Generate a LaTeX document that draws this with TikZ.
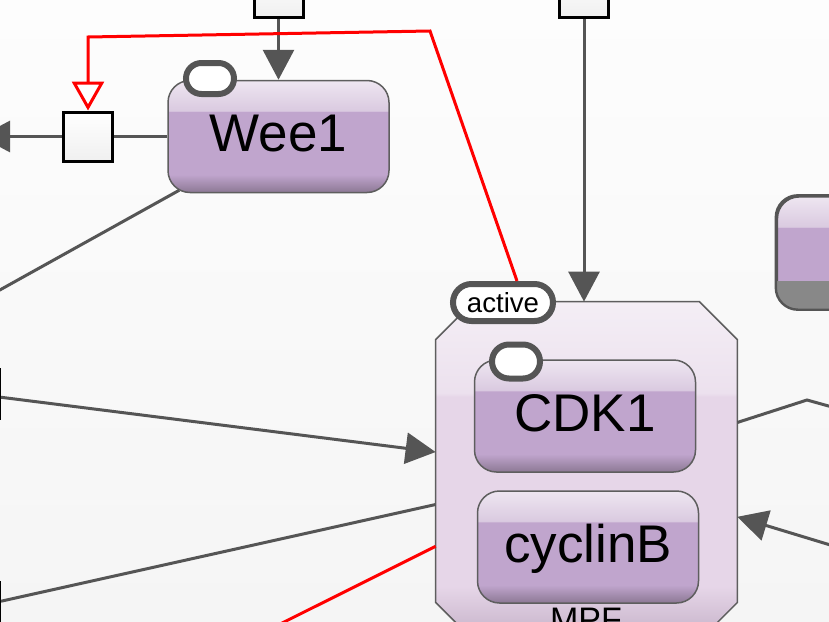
\documentclass[tikz,border=0pt]{standalone}
\usepackage{fontspec}
\setmainfont{Liberation Sans}
\usetikzlibrary{arrows.meta, shapes.misc, calc}
\definecolor{edgegray}{HTML}{555555}
\definecolor{bordergray}{HTML}{5E5E5E}
\definecolor{mtop}{HTML}{EEE6F1}
\definecolor{mmid}{HTML}{DACAE0}
\definecolor{mmain}{HTML}{C0A5CD}
\definecolor{mbot}{HTML}{8C7894}
\definecolor{ctop}{HTML}{F4EEF5}
\definecolor{cmid}{HTML}{ECE1EE}
\definecolor{cmain}{HTML}{E6D6E8}
\definecolor{cbot}{HTML}{C4B0C7}
\definecolor{bgtop}{HTML}{FDFDFD}
\definecolor{bgbot}{HTML}{F5F5F5}
\definecolor{clonegray}{HTML}{888888}
\definecolor{inhibred}{HTML}{FF0000}
\pgfdeclareverticalshading{macroshade}{100bp}{color(0bp)=(mbot); color(25bp)=(mbot); color(33bp)=(mmain); color(61bp)=(mmain); color(61.5bp)=(mmid); color(75bp)=(mtop); color(100bp)=(mtop)}
\pgfdeclareverticalshading{complexshade}{100bp}{color(0bp)=(cbot); color(25bp)=(cbot); color(33bp)=(cmain); color(61bp)=(cmain); color(61.5bp)=(cmid); color(75bp)=(ctop); color(100bp)=(ctop)}
\tikzset{
  macro node/.style={
    draw=bordergray,
    line width=0.75pt,
    shading=macroshade,
    rounded corners=11pt,
    minimum width=110.5pt,
    minimum height=56pt,
    inner sep=0pt,
    text height=19pt,
    text depth=4pt,
    font=\fontsize{26.5}{30}\selectfont
  },
  complex node/.style={
    minimum width=150.5pt,
    minimum height=169pt,
    inner sep=0pt
  },
  complex body/.style={
    draw=bordergray,
    line width=0.75pt,
    shading=complexshade
  },
  process node/.style={
    draw=black,
    line width=1.5pt,
    top color=white,
    bottom color=gray!12,
    minimum size=24.5pt,
    inner sep=0pt
  },
  state var/.style={
    rounded rectangle,
    draw=edgegray,
    line width=3pt,
    fill=white,
    inner sep=0pt,
    minimum width=24pt,
    minimum height=15.5pt
  },
  flow line/.style={
    draw=edgegray,
    line width=1.5pt
  },
  flow arrow/.style={
    flow line,
    -{Triangle[length=15pt, width=15.5pt]},
    fill=edgegray
  },
  stim arrow/.style={
    draw=inhibred,
    line width=1.5pt,
    -{Triangle[open, length=14.5pt, width=16pt, fill=white]}
  },
  red line/.style={
    draw=inhibred,
    line width=1.5pt
  }
}
\begin{document}
\begin{tikzpicture}[x=0.5pt, y=-0.5pt]

    % canvas (pixel units, y downwards)
    \clip (0,0) rectangle (829,621);
    \fill[top color=bgtop, bottom color=bgbot] (0,0) rectangle (829,621);

    % process squares
    \node[process node] (pTopL) at (278.5,-7) {};
    \node[process node] (pTopR) at (584,-7) {};
    \node[process node] (pWee) at (88,136.5) {};
    \node[process node] (pLeftA) at (-25,394) {};
    \node[process node] (pLeftB) at (-25,607) {};

    % Wee1 with its state variable
    \node[macro node] (wee) at (278.5,136.5) {Wee1};
    \node[state var] (weeSv) at (210,78.5) {};

    % clone box at the right edge
    \node[macro node, line width=1.2pt, draw=edgegray] (rbox) at (887.5,252.5) {};
    \begin{scope}
      \clip[rounded corners=11pt] (rbox.south west) rectangle (rbox.north east);
      \fill[clonegray] (rbox.south west) rectangle ($(rbox.south east)+(0,-29)$);
    \end{scope}
    \draw[draw=edgegray, line width=1.2pt, rounded corners=11pt] (rbox.south west) rectangle (rbox.north east);

    % MPF complex (cut corners of 38px)
    \node[complex node] (mpf) at (586.5,471) {};
    \path[complex body] ($(mpf.north west)+(38,0)$) -- ($(mpf.north east)+(-38,0)$)
      -- ($(mpf.north east)+(0,38)$) -- ($(mpf.south east)+(0,-38)$)
      -- ($(mpf.south east)+(-38,0)$) -- ($(mpf.south west)+(38,0)$)
      -- ($(mpf.south west)+(0,-38)$) -- ($(mpf.north west)+(0,38)$) -- cycle;
    \node[macro node] (cdk) at (585,416) {CDK1};
    \node[state var, minimum height=17pt] (cdkSv) at (516,361.5) {};
    \node[macro node] (cyc) at (588,547) {cyclinB};
    \node[anchor=base, font=\fontsize{17}{20}\selectfont] (mpfLabel) at (586,631) {MPF};
    \node[state var, minimum width=50pt, minimum height=18.5pt, font=\fontsize{13.8}{16}\selectfont] (active) at (503,302.5) {active};

    % free ends outside the frame
    \coordinate (kWee) at (-20,301);
    \coordinate (kOut) at (-20,136.5);
    \coordinate (kRed) at (200,664);
    \coordinate (kR1) at (807,400);
    \coordinate (kR2) at (850,412);
    \coordinate (kR3) at (860,554);
    \coordinate (kRa) at (430,31);
    \coordinate (kRb) at (88,37);

    % gray arcs
    \draw[flow arrow] (pTopL) -- (wee);
    \draw[flow arrow] (pTopR) -- (pTopR |- mpf.north);
    \draw[flow line] (wee) -- (pWee);
    \draw[flow arrow] (pWee) -- (kOut);
    \draw[flow line] (kWee) -- ($(wee.south west)+(12,-3)$);
    \draw[flow arrow] (pLeftA) -- (mpf);
    \draw[flow line] (pLeftB) -- (mpf);
    \draw[flow line] (kR2) -- (kR1) -- (mpf);
    \draw[flow arrow] (kR3) -- (mpf);

    % red arcs
    \draw[stim arrow] ($(active.north)+(14,0)$) -- (kRa) -- (kRb) -- (pWee);
    \draw[red line] (kRed) -- (mpf);

\end{tikzpicture}
\end{document}
